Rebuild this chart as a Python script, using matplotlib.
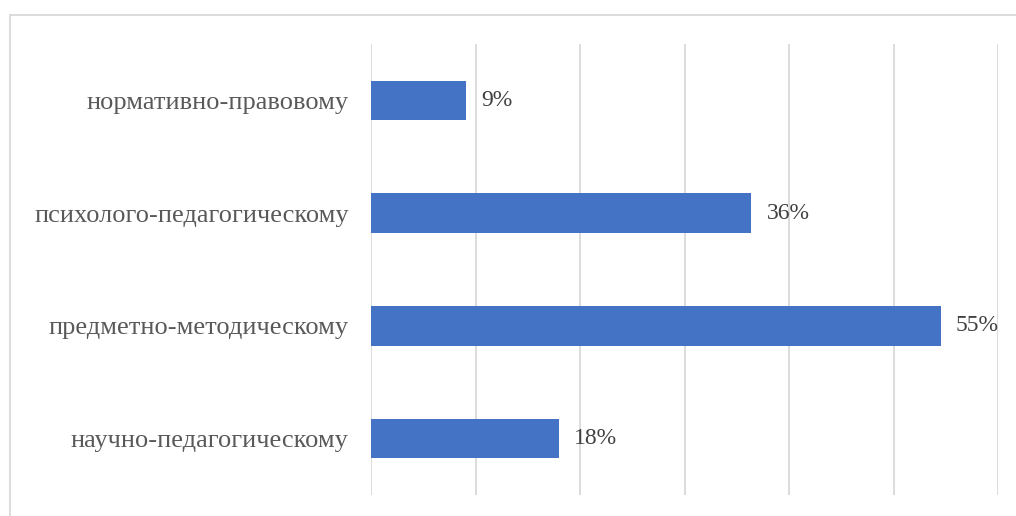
import matplotlib
matplotlib.use("Agg")
import matplotlib.pyplot as plt
from matplotlib.patches import Rectangle

categories = ["научно-педагогическому", "предметно-методическому",
              "психолого-педагогическому", "нормативно-правовому"]
values = [18.0, 54.5, 36.4, 9.1]
value_labels = ["18%", "55%", "36%", "9%"]
x_ticks = [0, 10, 20, 30, 40, 50, 60]

plt.rcParams['font.family'] = ['Liberation Serif', 'DejaVu Serif']

W, H = 1016, 516
fig = plt.figure(figsize=(W / 100, H / 100), dpi=100)
fig.patches.append(Rectangle((9.5 / W, -0.2), 1.2, 0.2 + (H - 14.5) / H, transform=fig.transFigure,
                             fill=False, edgecolor='#d9d9d9', linewidth=1.3))

ax = fig.add_axes([371 / W, 21 / H, (998 - 371) / W, (495 - 44) / H])
y = list(range(len(categories)))
ax.barh(y, values, height=0.35, color='#4472c4', zorder=3)
ax.set_xlim(0, 60)
ax.set_ylim(-0.5, len(categories) - 0.5)
ax.set_xticks(x_ticks)
ax.set_xticklabels([])
ax.tick_params(axis='x', length=0)
ax.tick_params(axis='y', length=0, pad=16, labelsize=19, labelcolor='#595959')
ax.set_yticks(y)
ax.set_yticklabels(categories)
ax.grid(axis='x', color='#d9d9d9', linewidth=1.3, zorder=0)
for s in ax.spines.values():
    s.set_visible(False)

for yi, v, lab in zip(y, values, value_labels):
    ax.annotate(lab, (v, yi), xytext=(15, 0), textcoords='offset pixels',
                va='center', ha='left', fontsize=17, color='#404040')

fig.savefig('out.png', dpi=100)
